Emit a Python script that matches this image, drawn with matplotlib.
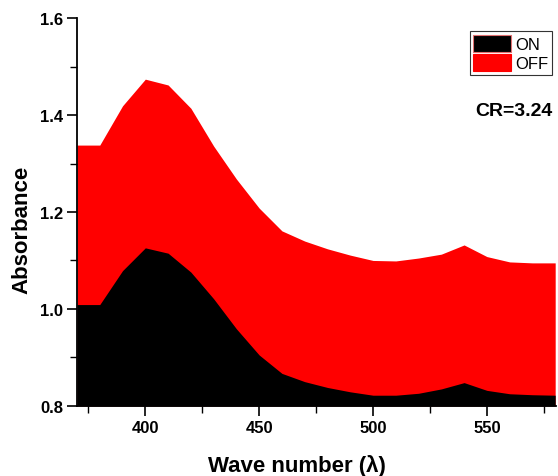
import matplotlib
matplotlib.use("Agg")
import matplotlib.pyplot as plt
from matplotlib.patches import Patch
from matplotlib.ticker import MultipleLocator

plt.rcParams['font.family'] = ['Liberation Sans', 'DejaVu Sans']

wavelength = [370, 380, 390, 400, 410, 420, 430, 440, 450, 460, 470, 480,
              490, 500, 510, 520, 530, 540, 550, 560, 570, 580]
absorb_off = [1.338, 1.338, 1.419, 1.474, 1.462, 1.414, 1.336, 1.268, 1.208, 1.161,
              1.140, 1.124, 1.111, 1.100, 1.099, 1.105, 1.113, 1.132, 1.108, 1.097,
              1.095, 1.095]
absorb_on = [1.009, 1.009, 1.079, 1.126, 1.115, 1.076, 1.021, 0.959, 0.905, 0.867,
             0.850, 0.838, 0.829, 0.822, 0.822, 0.826, 0.835, 0.848, 0.832, 0.825,
             0.823, 0.822]
series_labels = ["ON", "OFF"]
annotation = "CR=3.24"

fig = plt.figure(figsize=(5.58, 4.77), dpi=100)
ax = fig.add_axes([0.138, 0.147, 0.859, 0.813])

ax.fill_between(wavelength, 0.8, absorb_off, color='#ff0000', linewidth=0)
ax.fill_between(wavelength, 0.8, absorb_on, color='#000000', linewidth=0)

ax.set_xlim(370, 580.5)
ax.set_ylim(0.8, 1.6)
ax.xaxis.set_major_locator(MultipleLocator(50))
ax.xaxis.set_minor_locator(MultipleLocator(25))
ax.yaxis.set_major_locator(MultipleLocator(0.2))
ax.yaxis.set_minor_locator(MultipleLocator(0.1))
ax.yaxis.set_major_formatter(plt.FuncFormatter(lambda v, p: f"{v:.1f}"))

for s in ['top', 'right']:
    ax.spines[s].set_visible(False)
for s in ['left', 'bottom']:
    ax.spines[s].set_linewidth(1.3)

ax.tick_params(axis='both', which='major', direction='out', length=7, width=1.2,
               labelsize=12, pad=3)
ax.tick_params(axis='both', which='minor', direction='out', length=5, width=1.0)
for lbl in ax.get_xticklabels() + ax.get_yticklabels():
    lbl.set_fontweight('bold')

ax.set_xlabel("Wave number (λ)", fontsize=16, fontweight='bold')
ax.xaxis.set_label_coords(0.458, -0.125)
ax.set_ylabel("Absorbance", fontsize=16, fontweight='bold')
ax.yaxis.set_label_coords(-0.094, 0.456)

handles = [Patch(facecolor='#000000', edgecolor='#e07070', linewidth=0.8, label=series_labels[0]),
           Patch(facecolor='#ff0000', edgecolor='#ff0000', linewidth=0.8, label=series_labels[1])]
leg = ax.legend(handles=handles, loc='upper right', bbox_to_anchor=(0.991, 0.966),
                fontsize=12, frameon=True, fancybox=False, framealpha=1,
                edgecolor='#333333', handlelength=2.3, handleheight=1.2,
                handletextpad=0.25, borderpad=0.2, labelspacing=0.15,
                borderaxespad=0.0)
leg.get_frame().set_linewidth(0.8)

ax.text(0.993, 0.762, annotation, transform=ax.transAxes, ha='right', va='center',
        fontsize=14, fontweight='bold')

fig.savefig("out.png", dpi=100)
